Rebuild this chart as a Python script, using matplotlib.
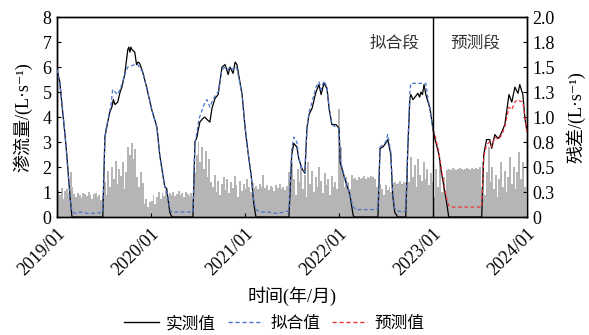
import matplotlib
matplotlib.use("Agg")
import matplotlib.pyplot as plt
import pandas as pd
from matplotlib.lines import Line2D

SERIF = ["Liberation Serif", "Noto Sans CJK SC", "DejaVu Serif"]
plt.rcParams["font.family"] = SERIF

# ---- measured seepage flow (L/s) ----
meas_dates = [
    "2019-01-01", "2019-01-12", "2019-01-20", "2019-02-01", "2019-02-08", "2019-02-20", "2019-02-28",
    "2019-06-28", "2019-07-06", "2019-07-17", "2019-07-25", "2019-08-02", "2019-08-08", "2019-08-14",
    "2019-08-25", "2019-09-03", "2019-09-10", "2019-09-21", "2019-10-03", "2019-10-07", "2019-10-11",
    "2019-10-15", "2019-10-19", "2019-10-30", "2019-11-06", "2019-11-12", "2019-11-18", "2019-11-30",
    "2019-12-15", "2020-01-04", "2020-01-24", "2020-02-04", "2020-02-16", "2020-02-24", "2020-03-02",
    "2020-03-14", "2020-03-22",
    "2020-06-12", "2020-06-20", "2020-06-28", "2020-07-01", "2020-07-09", "2020-07-21", "2020-07-28",
    "2020-08-06", "2020-08-17", "2020-08-25", "2020-09-06", "2020-09-18", "2020-10-03", "2020-10-15",
    "2020-10-27", "2020-11-03", "2020-11-15", "2020-11-23", "2020-11-30", "2020-12-20", "2021-01-01",
    "2021-01-12", "2021-01-24", "2021-02-04", "2021-02-12",
    "2021-06-20", "2021-06-28", "2021-07-01", "2021-07-09", "2021-07-21", "2021-07-28", "2021-08-09",
    "2021-08-21", "2021-08-29", "2021-09-06", "2021-09-18", "2021-10-03", "2021-10-15", "2021-10-23",
    "2021-11-03", "2021-11-15", "2021-11-23", "2021-12-04", "2021-12-20", "2022-01-01", "2022-01-05",
    "2022-01-16", "2022-01-27", "2022-02-12", "2022-02-24", "2022-02-28",
    "2022-06-01", "2022-06-09", "2022-06-20", "2022-07-01", "2022-07-09", "2022-07-21", "2022-07-28",
    "2022-08-05", "2022-08-17",
    "2022-09-17", "2022-09-25", "2022-10-03", "2022-10-07", "2022-10-15", "2022-10-23", "2022-11-03",
    "2022-11-10", "2022-11-15", "2022-11-21", "2022-11-27", "2022-12-04", "2022-12-20", "2023-01-01",
    "2023-01-08", "2023-01-24", "2023-02-04", "2023-02-16", "2023-02-24", "2023-03-03",
    "2023-07-09", "2023-07-17", "2023-07-28", "2023-08-09", "2023-08-17", "2023-08-29", "2023-09-06",
    "2023-09-13", "2023-09-25", "2023-10-07", "2023-10-23", "2023-11-03", "2023-11-15", "2023-11-27",
    "2023-12-04", "2023-12-10", "2023-12-16", "2023-12-24", "2023-12-31",
]
meas_values = [
    5.9, 5.4, 4.5, 3.3, 2.5, 0.9, 0.0,
    0.0, 3.2, 3.8, 4.2, 4.4, 4.7, 4.5,
    4.6, 5.0, 5.2, 5.7, 6.7, 6.8, 6.6,
    6.8, 6.7, 6.6, 6.1, 6.2, 6.15, 5.8,
    5.2, 4.3, 3.6, 2.5, 1.7, 1.2, 1.15,
    0.2, 0.0,
    0.0, 3.0, 3.2, 3.4, 3.8, 3.95, 4.0,
    3.9, 3.8, 4.35, 4.75, 4.9, 6.0, 6.1,
    5.7, 6.0, 5.75, 6.2, 6.1, 4.9, 3.55,
    2.6, 1.7, 0.5, 0.0,
    0.0, 1.8, 2.5, 2.95, 2.8, 2.35, 1.95,
    1.75, 3.55, 4.1, 4.35, 5.0, 5.3, 4.9,
    5.35, 5.15, 4.35, 3.7, 3.7, 3.55, 2.2,
    1.8, 1.4, 0.9, 0.1, 0.0,
    0.0, 2.75, 2.8, 2.95, 3.1, 2.5, 0.9,
    0.2, 0.0,
    0.0, 2.75, 4.75, 4.9, 4.7, 4.8, 4.95,
    4.8, 5.0, 4.9, 5.3, 4.9, 4.35, 3.5,
    3.15, 2.5, 1.7, 1.0, 0.5, 0.0,
    0.0, 2.5, 3.1, 3.1, 2.75, 3.3, 3.2,
    3.15, 3.4, 3.7, 4.9, 4.6, 5.2, 4.95,
    5.3, 5.1, 4.9, 3.95, 3.5,
]

# ---- fitted values (training period) ----
fit_dates = [
    "2019-01-01", "2019-01-12", "2019-01-20", "2019-02-01", "2019-02-08", "2019-02-20", "2019-02-28",
    "2019-03-10", "2019-04-01", "2019-05-01", "2019-06-01", "2019-06-28", "2019-07-06", "2019-07-10",
    "2019-07-20", "2019-07-30", "2019-08-05", "2019-08-25", "2019-09-10", "2019-09-21", "2019-10-03",
    "2019-10-30", "2019-11-10", "2019-11-30", "2019-12-15", "2020-01-04", "2020-01-24", "2020-02-04",
    "2020-02-16", "2020-02-24", "2020-03-02", "2020-03-14", "2020-03-22", "2020-04-15", "2020-05-15",
    "2020-06-12", "2020-06-20", "2020-06-28", "2020-07-05", "2020-07-15", "2020-07-25", "2020-08-06",
    "2020-08-17", "2020-08-25", "2020-09-06", "2020-09-18", "2020-10-03", "2020-10-15", "2020-10-27",
    "2020-11-03", "2020-11-15", "2020-11-23", "2020-11-30", "2020-12-20", "2021-01-01", "2021-01-12",
    "2021-01-24", "2021-02-04", "2021-02-12", "2021-03-01", "2021-04-01", "2021-05-01", "2021-06-01",
    "2021-06-20", "2021-06-28", "2021-07-01", "2021-07-09", "2021-07-21", "2021-07-28", "2021-08-09",
    "2021-08-21", "2021-08-29", "2021-09-06", "2021-09-18", "2021-10-03", "2021-10-15", "2021-10-23",
    "2021-11-03", "2021-11-15", "2021-11-23", "2021-12-04", "2021-12-20", "2022-01-01", "2022-01-05",
    "2022-01-16", "2022-01-27", "2022-02-12", "2022-02-24", "2022-03-10", "2022-04-10", "2022-05-10",
    "2022-06-01", "2022-06-09", "2022-06-20", "2022-07-01", "2022-07-09", "2022-07-21", "2022-07-28",
    "2022-08-05", "2022-08-17", "2022-09-01", "2022-09-17", "2022-09-25", "2022-10-03", "2022-10-07",
    "2022-11-15", "2022-12-04", "2022-12-10", "2022-12-20", "2023-01-01",
]
fit_values = [
    5.9, 5.3, 4.6, 3.3, 2.4, 0.8, 0.25,
    0.15, 0.2, 0.15, 0.15, 0.2, 3.2, 3.5,
    4.0, 4.5, 5.1, 4.9, 5.3, 5.7, 6.0,
    6.1, 6.1, 5.8, 5.2, 4.3, 3.6, 2.5,
    1.7, 1.2, 1.1, 0.3, 0.2, 0.2, 0.2,
    0.2, 3.0, 3.4, 3.9, 4.2, 4.5, 4.7,
    4.4, 4.6, 4.85, 5.0, 5.9, 6.0, 5.9,
    6.0, 5.9, 6.0, 5.95, 4.9, 3.6, 2.6,
    1.7, 0.6, 0.3, 0.2, 0.2, 0.15, 0.2,
    0.25, 2.0, 2.7, 3.2, 3.0, 2.4, 1.95,
    1.8, 3.5, 4.2, 4.6, 5.2, 5.4, 5.1,
    5.45, 5.2, 4.4, 3.7, 3.6, 3.55, 2.3,
    1.85, 1.4, 0.9, 0.4, 0.3, 0.3, 0.3,
    0.35, 2.8, 2.9, 3.0, 3.3, 2.6, 1.0,
    0.35, 0.25, 0.2, 0.25, 2.9, 5.0, 5.35,
    5.35, 5.35, 4.9, 4.3, 3.5,
]

# ---- predicted values (test period) ----
pred_dates = [
    "2023-01-01", "2023-01-08", "2023-01-24", "2023-02-04", "2023-02-16", "2023-02-24", "2023-03-03",
    "2023-03-15", "2023-07-09", "2023-07-17", "2023-07-28", "2023-08-09", "2023-08-17", "2023-08-29",
    "2023-09-13", "2023-09-25", "2023-10-07", "2023-10-23", "2023-11-03", "2023-11-15", "2023-11-27",
    "2023-12-04", "2023-12-16", "2023-12-24", "2023-12-31",
]
pred_values = [
    3.5, 3.3, 2.6, 1.8, 1.1, 0.7, 0.45,
    0.4, 0.4, 2.4, 2.9, 3.0, 2.8, 3.2,
    3.1, 3.3, 3.6, 4.4, 4.3, 4.6, 4.7,
    4.65, 4.6, 4.0, 3.4,
]

# ---- weekly residuals (L/s), one list per year ----
resid_2019 = [0.27, 0.22, 0.29, 0.18, 0.26, 0.28, 0.24, 0.45, 0.30,
              0.23, 0.20, 0.24, 0.22, 0.19, 0.24, 0.23, 0.21, 0.25, 0.22, 0.18, 0.23, 0.24, 0.20, 0.22, 0.17, 0.21,
              0.35, 0.22, 0.46, 0.30, 0.50, 0.38, 0.56, 0.33, 0.48, 0.41, 0.55, 0.28, 0.45,
              0.70, 0.62, 0.74, 0.58, 0.68,
              0.40, 0.30, 0.45, 0.34,
              0.13, 0.18, 0.10, 0.15]
resid_2020 = [0.16, 0.22, 0.13, 0.20, 0.25, 0.18, 0.24, 0.21, 0.27, 0.20,
              0.24, 0.22, 0.25, 0.21, 0.23, 0.26, 0.22, 0.24, 0.20, 0.25, 0.23, 0.21, 0.24, 0.18,
              0.45, 0.62, 0.75, 0.55, 0.70, 0.48, 0.66, 0.40, 0.58, 0.35,
              0.30, 0.42, 0.25, 0.36, 0.22, 0.33, 0.40, 0.27, 0.38, 0.24, 0.35, 0.29, 0.41, 0.32, 0.20, 0.36,
              0.26, 0.33]
resid_2021 = [0.28, 0.38, 0.30, 0.25, 0.34, 0.29,
              0.31, 0.28, 0.33, 0.30, 0.42, 0.29, 0.32, 0.27, 0.31, 0.30, 0.26, 0.32, 0.29, 0.33, 0.28, 0.30,
              0.27, 0.31,
              0.45, 0.30, 0.55, 0.38, 0.22, 0.48, 0.35, 0.52, 0.28, 0.42, 0.20, 0.55, 0.33, 0.46, 0.25, 0.40,
              0.30, 0.50, 0.36, 0.24, 0.44, 0.32, 0.38, 0.22, 0.41, 0.30, 0.35, 0.28]
resid_2022 = [1.08,
              0.70, 0.45, 0.30, 0.40, 0.35, 0.28, 0.42,
              0.38, 0.39, 0.37, 0.40, 0.38, 0.39, 0.41, 0.38, 0.40, 0.39, 0.41, 0.40, 0.38,
              0.30, 0.25, 0.33, 0.28, 0.22, 0.32, 0.27, 0.30, 0.25,
              0.34, 0.35, 0.33, 0.34, 0.36, 0.33, 0.35, 0.34,
              0.45, 0.35, 0.60, 0.40, 0.52, 0.30, 0.58, 0.42, 0.36, 0.55, 0.38, 0.48, 0.32, 0.44]
resid_2023 = [0.35, 0.20, 0.48, 0.30, 0.55, 0.25, 0.40, 0.22,
              0.47, 0.48, 0.47, 0.49, 0.48, 0.47, 0.48, 0.49, 0.48, 0.47, 0.48, 0.49, 0.48, 0.47, 0.49,
              0.48, 0.49, 0.48, 0.50,
              0.30, 0.55, 0.22, 0.45, 0.70, 0.35, 0.50, 0.28, 0.42, 0.20, 0.38, 0.55, 0.30, 0.46, 0.25,
              0.40, 0.60, 0.33, 0.50, 0.28, 0.45, 0.65, 0.38, 0.55, 0.30]

year_ticks = ["2019-01-01", "2020-01-01", "2021-01-01", "2022-01-01", "2023-01-01", "2024-01-01"]
year_labels = ["2019/01", "2020/01", "2021/01", "2022/01", "2023/01", "2024/01"]
left_ticks = [0, 1, 2, 3, 4, 5, 6, 7, 8]
right_ticks = [0, 0.25, 0.5, 0.75, 1.0, 1.25, 1.5, 1.75, 2.0]
right_labels = ["0", "0.3", "0.5", "0.8", "1.0", "1.3", "1.5", "1.8", "2.0"]

residuals = resid_2019 + resid_2020 + resid_2021 + resid_2022 + resid_2023
resid_dates = pd.date_range("2019-01-01", periods=len(residuals), freq="7D")

BLUE = "#4a74c9"
RED = "#e8383a"
DASH = (0, (3, 2))

fig = plt.figure(figsize=(5.89, 3.35), dpi=100)
ax = fig.add_axes([0.0968, 0.352, 0.7979, 0.597])
ax2 = ax.twinx()

# residual bars on the right axis, drawn behind the flow lines
ax2.bar(resid_dates, residuals, width=7.6, align="edge", color="#b5b5b5", edgecolor="none", linewidth=0)
ax2.set_ylim(0, 2.0)
ax2.set_yticks(right_ticks)
ax2.set_yticklabels(right_labels)
ax.set_zorder(ax2.get_zorder() + 1)
ax.patch.set_visible(False)

ax.plot(pd.to_datetime(meas_dates), meas_values, color="black", lw=0.9, zorder=3)
ax.plot(pd.to_datetime(fit_dates), fit_values, color=BLUE, lw=0.9, ls=DASH, zorder=4)
ax.plot(pd.to_datetime(pred_dates), pred_values, color=RED, lw=0.9, ls=DASH, zorder=4)

split = pd.Timestamp("2023-01-01")
ax.axvline(split, color="black", lw=1.0, zorder=5)

ax.set_xlim(pd.Timestamp("2019-01-01"), pd.Timestamp("2024-01-01"))
ax.set_ylim(0, 8)
ax.set_yticks(left_ticks)
ax.set_xticks(pd.to_datetime(year_ticks))
ax.set_xticklabels(year_labels, rotation=45, ha="right", rotation_mode="anchor")

for a in (ax, ax2):
    a.tick_params(direction="in", length=3, width=0.8, labelsize=13, colors="black")
    for s in a.spines.values():
        s.set_linewidth(1.0)
ax.tick_params(axis="x", pad=6)
ax.tick_params(axis="y", pad=4)
ax2.tick_params(axis="y", pad=4)

ax.text(pd.Timestamp("2022-11-08"), 6.95, "拟合段", ha="right", va="center", fontsize=12,
        family=["Noto Sans CJK SC"], color="#333333")
ax.text(pd.Timestamp("2023-03-10"), 6.95, "预测段", ha="left", va="center", fontsize=12,
        family=["Noto Sans CJK SC"], color="#333333")

ax.set_ylabel("渗流量/(L·s⁻¹)", fontsize=13, labelpad=7)
ax2.set_ylabel("残差/(L·s⁻¹)", fontsize=13, labelpad=8)
ax.set_xlabel("时间(年/月)", fontsize=13, labelpad=5)

handles = [
    Line2D([], [], color="black", lw=1.0),
    Line2D([], [], color=BLUE, lw=1.0, ls=DASH),
    Line2D([], [], color=RED, lw=1.0, ls=DASH),
]
fig.legend(handles, ["实测值", "拟合值", "预测值"], loc="center", bbox_to_anchor=(0.465, 0.032),
           ncol=3, frameon=False, fontsize=12, handlelength=2.1, columnspacing=0.7, handletextpad=0.45)

fig.savefig("out.png", dpi=100)
